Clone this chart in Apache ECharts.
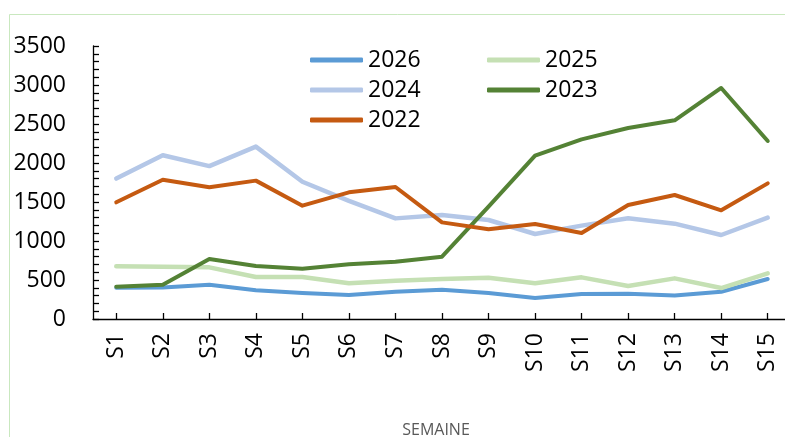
<!DOCTYPE html>
<html>
<head>
<meta charset="utf-8">
<script src="https://cdn.jsdelivr.net/npm/echarts@6/dist/echarts.min.js"></script>
<style>
html,body{margin:0;padding:0;background:#fff;}
#chart{width:785px;height:437px;}
</style>
</head>
<body>
<div id="chart"></div>
<script>
const categories = ['S1','S2','S3','S4','S5','S6','S7','S8','S9','S10','S11','S12','S13','S14','S15'];
const s2026 = [400, 405, 440, 368, 333, 308, 350, 376, 333, 270, 321, 325, 300, 350, 513];
const s2025 = [675, 671, 662, 538, 538, 457, 491, 513, 530, 457, 534, 423, 521, 397, 585];
const s2024 = [1800, 2100, 1960, 2210, 1760, 1515, 1290, 1333, 1269, 1090, 1197, 1291, 1222, 1077, 1299];
const s2023 = [415, 440, 769, 680, 645, 701, 735, 799, 1440, 2094, 2303, 2449, 2547, 2962, 2282];
const s2022 = [1496, 1786, 1688, 1774, 1453, 1624, 1692, 1239, 1150, 1218, 1103, 1462, 1590, 1393, 1739];

const FONT = '"Open Sans", sans-serif';
const chart = echarts.init(document.getElementById('chart'), null, {renderer: 'canvas'});

function line(name, data, color, width) {
  return {
    name: name, type: 'line', data: data, symbol: 'none', smooth: false,
    lineStyle: {color: color, width: width, cap: 'round', join: 'round'},
    itemStyle: {color: color},
    emphasis: {disabled: true}
  };
}

const legendCommon = {
  orient: 'vertical',
  icon: 'roundRect',
  itemWidth: 53,
  itemHeight: 5,
  itemGap: 0,
  textStyle: {fontFamily: FONT, fontSize: 23, color: '#000', lineHeight: 30, padding: [0,0,0,0]}
};

chart.setOption({
  animation: false,
  backgroundColor: '#fff',
  graphic: [{
    type: 'rect', silent: true,
    shape: {x: 9.5, y: 14.5, width: 900, height: 500},
    style: {fill: 'none', stroke: '#c9e8bf', lineWidth: 1}
  }],
  legend: [
    Object.assign({left: 305, top: 40, data: ['2026', '2024', '2022']}, legendCommon),
    Object.assign({left: 482, top: 40, data: ['2025', '2023']}, legendCommon)
  ],
  grid: {left: 93, top: 46, right: -6, bottom: 118, containLabel: false, outerBoundsMode: 'none'},
  xAxis: {
    type: 'category',
    data: categories,
    boundaryGap: true,
    name: 'SEMAINE',
    nameLocation: 'middle',
    nameGap: 103,
    nameTextStyle: {fontFamily: FONT, fontSize: 16, color: '#595959', padding: [0, 12, 0, 0]},
    axisLine: {lineStyle: {color: '#000', width: 1.3}},
    axisTick: {show: true, alignWithLabel: true, inside: true, length: 6, lineStyle: {color: '#000', width: 1.3}},
    axisLabel: {rotate: 90, margin: 14, fontFamily: FONT, fontSize: 23, color: '#000', interval: 0},
    splitLine: {show: false}
  },
  yAxis: {
    type: 'value',
    min: 0, max: 3500, interval: 100,
    axisLine: {show: true, lineStyle: {color: '#000', width: 1.3}},
    axisTick: {show: true, inside: true, length: 6, lineStyle: {color: '#000', width: 1.3}},
    axisLabel: {
      margin: 27, fontFamily: FONT, fontSize: 23, color: '#000',
      formatter: function (v) { return v % 500 === 0 ? String(v) : ''; }
    },
    splitLine: {show: false}
  },
  series: [
    line('2026', s2026, '#5b9bd5', 4),
    line('2025', s2025, '#c5e0b4', 4.5),
    line('2024', s2024, '#b4c7e7', 4.5),
    line('2023', s2023, '#548235', 4),
    line('2022', s2022, '#c55a11', 4)
  ]
});
</script>
</body>
</html>
